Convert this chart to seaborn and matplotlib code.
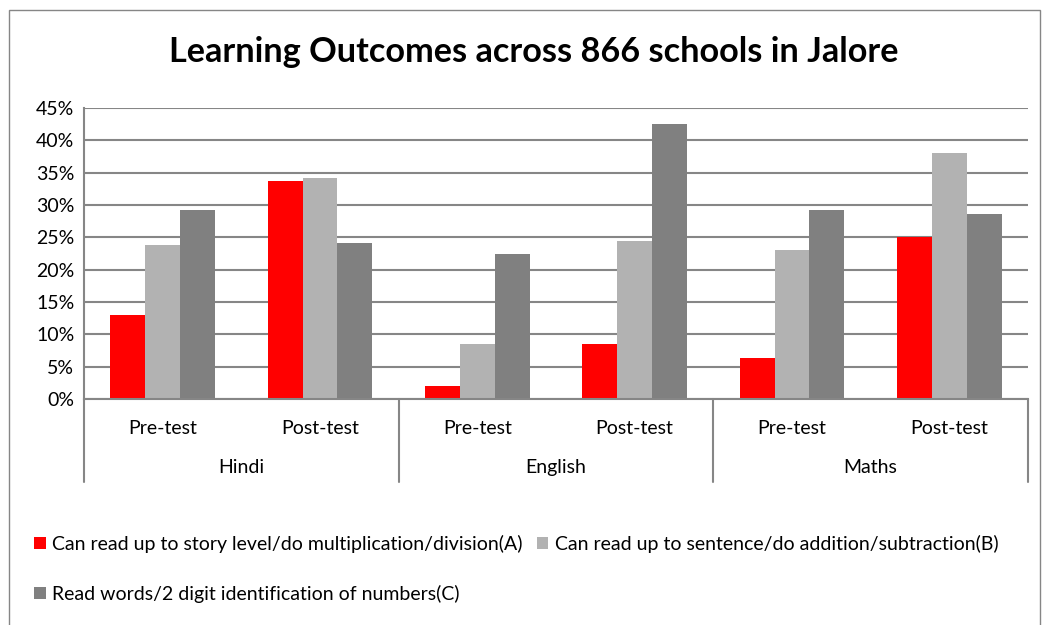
import pandas as pd
import matplotlib.pyplot as plt
import seaborn as sns
from matplotlib.patches import Rectangle
import matplotlib.transforms as mtransforms

subjects = ['Hindi', 'English', 'Maths']
tests = ['Pre-test', 'Post-test']
series = ['Can read up to story level/do multiplication/division(A)',
          'Can read up to sentence/do addition/subtraction(B)',
          'Read words/2 digit identification of numbers(C)']
level_a = [13.0, 33.7, 2.0, 8.5, 6.4, 25.0]
level_b = [23.8, 34.2, 8.5, 24.5, 23.0, 38.0]
level_c = [29.2, 24.1, 22.5, 42.5, 29.3, 28.6]
colors = ['#FF0000', '#B2B2B2', '#808080']

slots = [s + ' ' + t for s in subjects for t in tests]
rows = []
for name, vals in zip(series, [level_a, level_b, level_c]):
    for slot, v in zip(slots, vals):
        rows.append({'slot': slot, 'series': name, 'value': v})
df = pd.DataFrame(rows)

sns.set_style('white')
plt.rcParams['font.family'] = ['Lato', 'DejaVu Sans']
plt.rcParams['text.color'] = 'black'
plt.rcParams['xtick.color'] = 'black'
plt.rcParams['ytick.color'] = 'black'
grid_col = '#868686'
fs = 14

fig = plt.figure(figsize=(10.46, 6.25), dpi=100)
ax = fig.add_axes([0.0803, 0.3616, 0.9025, 0.4656])
sns.barplot(data=df, x='slot', y='value', hue='series', palette=colors,
            saturation=1, width=0.667, linewidth=0, ax=ax)
handles, labels = ax.get_legend_handles_labels()
ax.get_legend().remove()

ax.set_ylim(0, 45)
ax.set_yticks(range(0, 50, 5))
ax.set_yticklabels([f'{v}%' for v in range(0, 50, 5)], fontsize=fs)
ax.yaxis.grid(True, color=grid_col, lw=1.5)
ax.set_axisbelow(True)
ax.set_xlim(-0.5, 5.5)
ax.set_xticks(range(6))
ax.set_xticklabels(tests * 3, fontsize=fs)
ax.tick_params(axis='x', length=0, pad=15)
ax.tick_params(axis='y', length=0, pad=7)
ax.set_xlabel('')
ax.set_ylabel('')
for side in ['top', 'right']:
    ax.spines[side].set_visible(False)
for side in ['left', 'bottom']:
    ax.spines[side].set_color(grid_col)
    ax.spines[side].set_linewidth(1.5)

# two-level category axis
trans = mtransforms.blended_transform_factory(ax.transData, ax.transAxes)
for x in [-0.5, 1.5, 3.5, 5.5]:
    ax.plot([x, x], [0, -0.285], transform=trans, clip_on=False,
            color=grid_col, lw=1.5)
for i, s in enumerate(subjects):
    ax.text(i * 2 + 0.5, -0.234, s, transform=trans, ha='center', va='center',
            fontsize=fs)

fig.text(0.5105, 0.9168, 'Learning Outcomes across 866 schools in Jalore',
         ha='center', va='center', fontsize=24.7, fontweight='bold')

fig.legend(handles=[handles[0], handles[2], handles[1]],
           labels=[labels[0], labels[2], labels[1]],
           ncol=2, loc='upper left', bbox_to_anchor=(34 / 1046, 1 - 535 / 625),
           frameon=False, handlelength=0.6, handleheight=0.6,
           handletextpad=0.35, columnspacing=0.7, labelspacing=1.62,
           fontsize=fs, borderaxespad=0, borderpad=0)

fig.patches.append(Rectangle((9 / 1046, -0.05), 1031 / 1046, 1.034,
                             transform=fig.transFigure, fill=False,
                             edgecolor=grid_col, lw=1))

plt.savefig('out.png', dpi=100)
